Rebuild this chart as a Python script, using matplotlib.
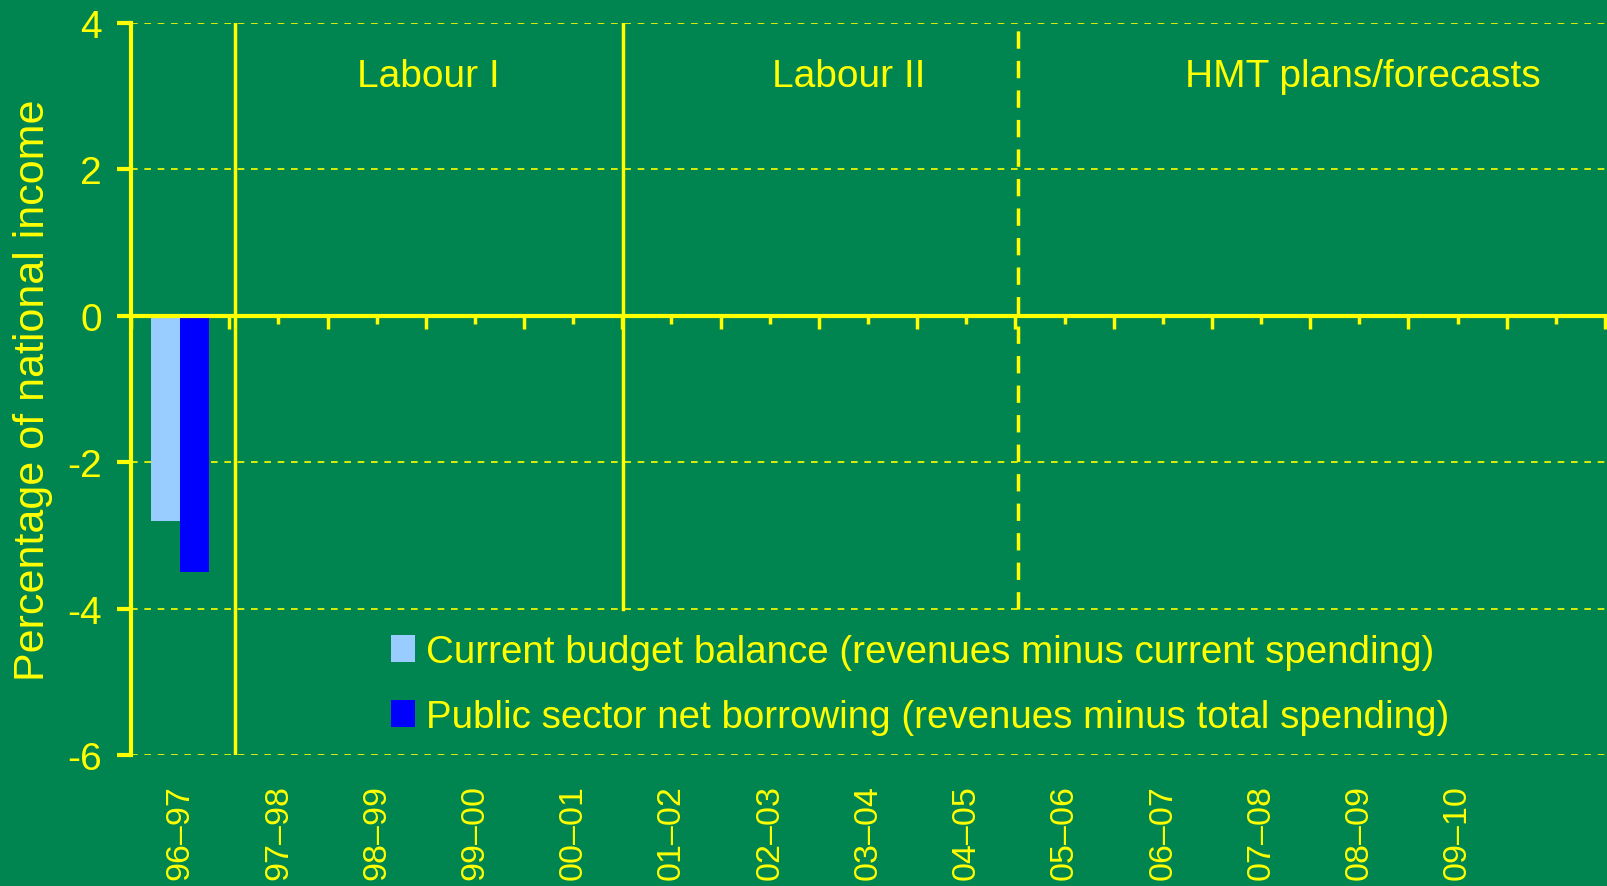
import matplotlib
matplotlib.use("Agg")
import matplotlib.pyplot as plt
import numpy as np

plt.rcParams['font.family'] = ['Liberation Sans', 'DejaVu Sans']

categories = ['96–97', '97–98', '98–99', '99–00', '00–01', '01–02', '02–03',
              '03–04', '04–05', '05–06', '06–07', '07–08', '08–09', '09–10', '']
current_budget = [-2.8] + [np.nan] * 14
psnb = [-3.5] + [np.nan] * 14
legend_labels = ['Current budget balance (revenues minus current spending)',
                 'Public sector net borrowing (revenues minus total spending)']
period_labels = ['Labour I', 'Labour II', 'HMT plans/forecasts']
period_label_x = [2.53, 6.8, 12.04]
yticks = [-6, -4, -2, 0, 2, 4]

BG = '#008551'
YEL = '#FFFF00'

fig = plt.figure(figsize=(16.08, 8.87), dpi=100, facecolor=BG)
ax = fig.add_axes([131/1608, 1-756/887, (1605-131)/1608, (756-24)/887])
ax.set_facecolor(BG)

x = np.arange(len(categories))
w = 0.295
ax.bar(x - w/2, current_budget, width=w, color='#99CCFF', label=legend_labels[0], zorder=3)
ax.bar(x + w/2, psnb, width=w, color='#0000FF', label=legend_labels[1], zorder=3)

ax.set_xlim(-0.5, len(categories) - 0.5)
ax.set_ylim(-6, 4)

# grid
for yv in [4, 2, -2, -4, -6]:
    ax.axhline(yv, color=YEL, lw=1.2, ls=(0, (4, 4)), zorder=1)

# period separators
ax.plot([0.56, 0.56], [-6, 4], color=YEL, lw=2.5, zorder=2)
ax.plot([4.51, 4.51], [-4, 4], color=YEL, lw=2.5, zorder=2)
ax.plot([8.53, 8.53], [-4, 4], color=YEL, lw=2.5, ls=(0, (5, 3.5)), zorder=2)

for lab, px in zip(period_labels, period_label_x):
    ax.text(px, 3.28, lab, color=YEL, fontsize=28, ha='center', va='center')

# spines
for s in ['top', 'right']:
    ax.spines[s].set_visible(False)
ax.spines['left'].set_color(YEL)
ax.spines['left'].set_linewidth(3)
ax.spines['bottom'].set_position(('data', 0))
ax.spines['bottom'].set_color(YEL)
ax.spines['bottom'].set_linewidth(3)
ax.spines['bottom'].set_zorder(4)

ax.set_yticks(yticks)
ax.set_yticklabels([str(v) for v in yticks], fontsize=28, color=YEL)
ax.tick_params(axis='y', colors=YEL, length=10, width=3, direction='out', pad=11)

ax.set_xticks(np.arange(len(categories) + 1) - 0.5)
ax.set_xticks(x, minor=True)
ax.tick_params(axis='x', which='major', colors=YEL, length=9, width=2.5,
               direction='out', labelbottom=False)
ax.tick_params(axis='x', which='minor', colors=YEL, length=6, width=2.5,
               direction='out', labelbottom=False)

sec = ax.secondary_xaxis('bottom')
sec.set_xticks(x)
sec.set_xticklabels(categories, rotation=90, fontsize=24.5, color=YEL)
sec.tick_params(axis='x', length=0, pad=21)
sec.spines['bottom'].set_visible(False)

ax.set_ylabel('Percentage of national income', color=YEL, fontsize=31)
ax.yaxis.label.set_va('center')
ax.yaxis.set_label_coords(-0.0665, 0.5)

leg = ax.legend(loc='upper left', bbox_to_anchor=(391/1608, 1-635/887),
                bbox_transform=fig.transFigure, frameon=False,
                prop={'size': 27.7},
                handlelength=0.62, handleheight=0.70, handletextpad=0.28,
                labelspacing=0.75, borderpad=0, borderaxespad=0)
for t in leg.get_texts():
    t.set_color(YEL)

fig.savefig('out.png', dpi=100, facecolor=BG)
